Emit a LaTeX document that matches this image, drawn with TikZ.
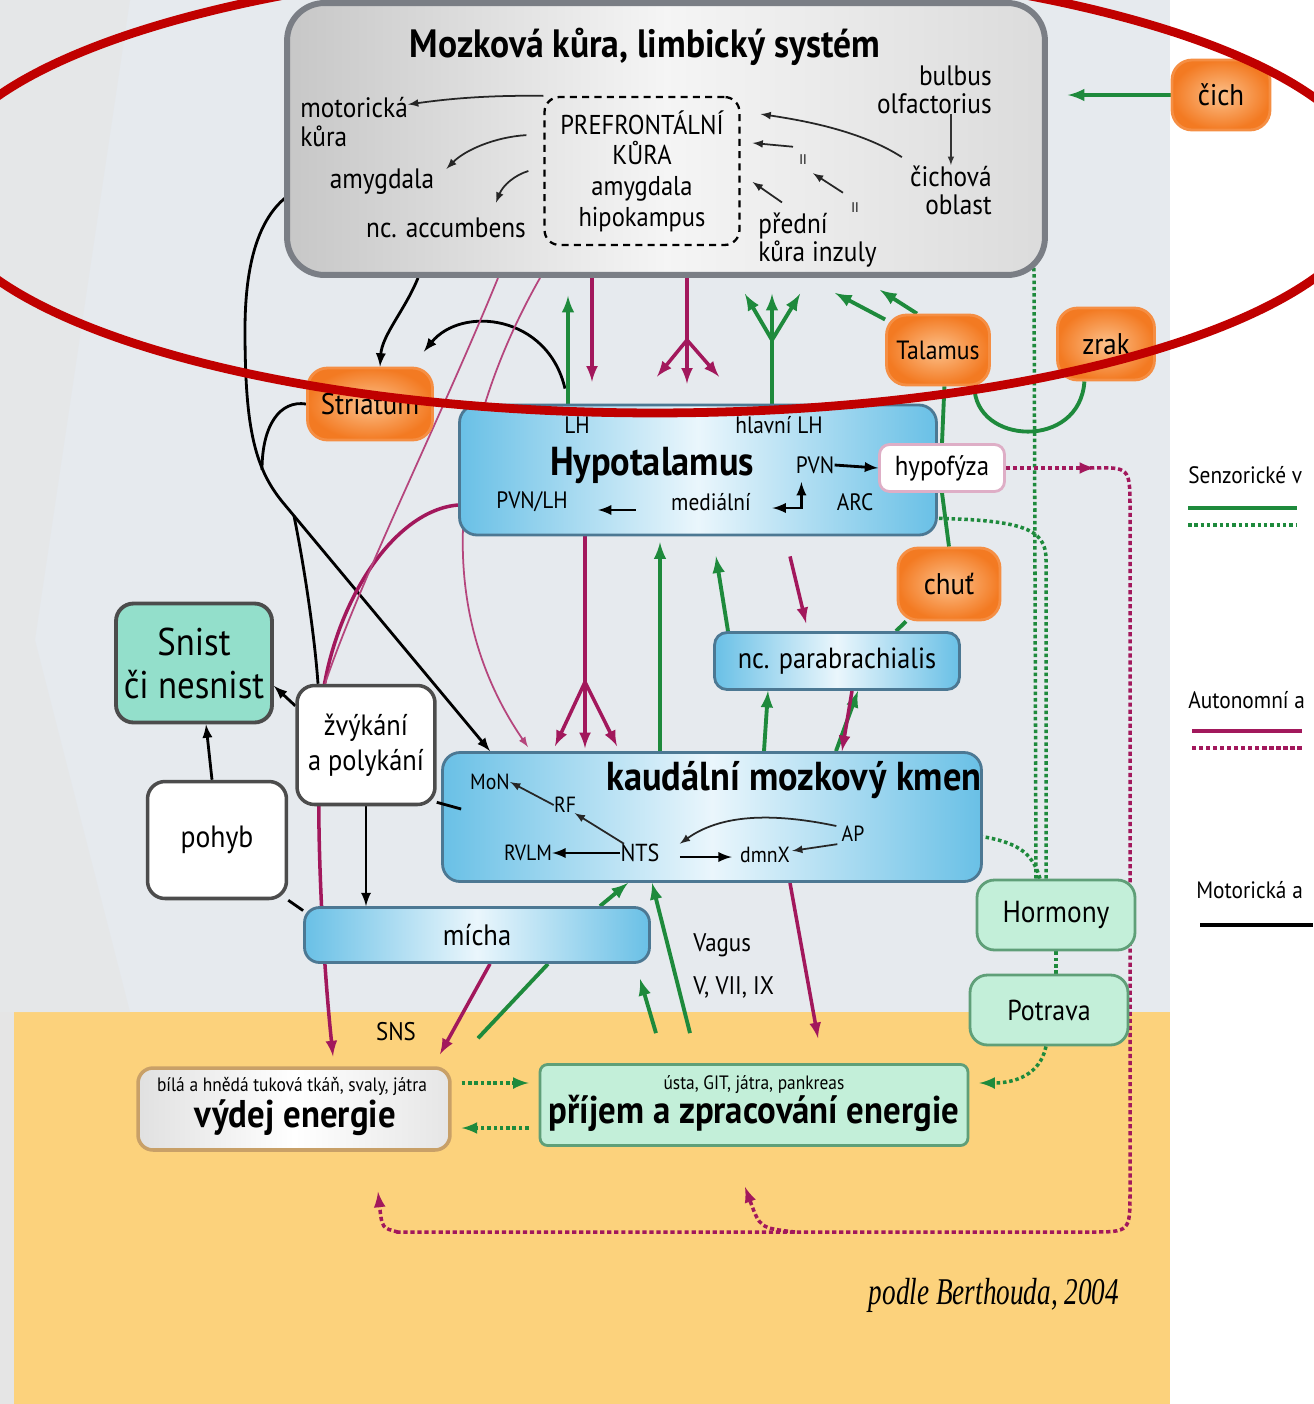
\documentclass[tikz,border=0pt]{standalone}
\usepackage{fontspec}
\setmainfont{PT Sans}[FakeStretch=0.9]
\newfontfamily\citefont{Liberation Serif}[FakeStretch=0.72]
\usetikzlibrary{calc}

\definecolor{sgreen}{HTML}{1E8A3C}
\definecolor{amag}{HTML}{A2185C}
\definecolor{panel}{HTML}{E6EAEE}
\definecolor{sand}{HTML}{FCD27C}
\definecolor{oin}{HTML}{FCC08A}
\definecolor{oout}{HTML}{F37A22}
\definecolor{bl}{HTML}{69C0E6}
\definecolor{blmid}{HTML}{EAF6FC}
\definecolor{blline}{HTML}{4C7893}
\definecolor{mint}{HTML}{C3EFD9}
\definecolor{mintline}{HTML}{5F9F78}
\definecolor{snistfill}{HTML}{93DFCB}
\definecolor{korline}{HTML}{7A7E85}
\definecolor{vydline}{HTML}{C8A068}
\definecolor{ellred}{HTML}{C00000}

\pgfdeclarelayer{bg}
\pgfdeclarelayer{edges}
\pgfsetlayers{bg,edges,main}

\tikzset{
  every node/.style={inner sep=0pt, font=\fontsize{16}{16}\selectfont},
  box/.style={rounded corners=0.35cm, line width=1.6pt},
  obox/.style={box, draw=oout!85!white, inner color=oin, outer color=oout, rounded corners=0.4cm},
  bbox/.style={box, draw=blline, left color=bl, right color=bl, middle color=blmid},
  mbox/.style={box, draw=mintline, fill=mint},
  wbox/.style={box, draw=black!70, fill=white, line width=2pt},
  sens/.style={draw=sgreen, line width=2.2pt},
  sensdot/.style={draw=sgreen, line width=2pt, dash pattern=on 2pt off 1.6pt},
  autn/.style={draw=amag, line width=2pt},
  autnthin/.style={draw=amag!80, line width=1pt},
  autodot/.style={draw=amag, line width=2pt, dash pattern=on 2.4pt off 1.6pt},
  motor/.style={draw=black, line width=1.6pt},
  motorthin/.style={draw=black!85, line width=1pt},
  sublbl/.style={font=\fontsize{13.5}{13.5}\selectfont},
  kmenlbl/.style={font=\fontsize{12.5}{12.5}\selectfont},
  leglbl/.style={anchor=west, font=\fontsize{13.5}{13.5}\selectfont},
}

\begin{document}
\begin{tikzpicture}[x=0.02cm, y=-0.02cm]
  \useasboundingbox (0,0) rectangle (1313,1404);

  % pozadi
  \begin{pgfonlayer}{bg}
    \fill[white] (0,0) rectangle (1313,1404);
    \fill[panel] (0,0) rectangle (1170,1012);
    \fill[sand] (0,1012) rectangle (1170,1404);
    \fill[black!10, opacity=0.6] (0,0) -- (130,0) -- (35,640) -- (130,1012) -- (0,1012) -- cycle;
    \fill[black!10] (0,1012) rectangle (14,1404);
  \end{pgfonlayer}

  % mozkova kura
  \node[box, draw=korline, line width=3.4pt, rounded corners=0.75cm, left color=black!22, right color=black!14, middle color=black!4, minimum width=15.16cm, minimum height=5.44cm] (kora) at (666,139) {};
  \node[font=\bfseries\fontsize{22.5}{24}\selectfont] (koratit) at (645,47) {Mozková kůra, limbický systém};
  \node[align=left, anchor=west] (mot) at (300,122) {motorická\\kůra};
  \node (amyg) at (382,182) {amygdala};
  \node (acc) at (446,228) {nc. accumbens};
  \node[draw, line width=1.3pt, dash pattern=on 4pt off 3pt, rounded corners=0.3cm, minimum width=3.9cm, minimum height=2.96cm, align=center, font=\fontsize{15.5}{17.5}\selectfont] (pfc) at (642,171) {PREFRONTÁLNÍ\\KŮRA\\amygdala\\hipokampus};
  \node[align=right, anchor=east] (bulbus) at (992,90) {bulbus\\olfactorius};
  \node[align=right, anchor=east] (cichova) at (992,190) {čichová\\oblast};
  \node[align=left, anchor=west] (insula) at (758,240) {přední\\kůra inzuly};
  \node[font=\fontsize{8}{8}\selectfont] (ii1) at (803,160) {II};
  \node[font=\fontsize{8}{8}\selectfont] (ii2) at (855,208) {II};
  \coordinate (olf) at (958,240);

  % smysly a jadra
  \node[obox, minimum width=1.96cm, minimum height=1.4cm, font=\fontsize{17}{17}\selectfont] (cich) at (1221,95) {čich};
  \node[obox, minimum width=2.06cm, minimum height=1.4cm, font=\fontsize{15}{15}\selectfont] (talamus) at (938,350) {Talamus};
  \node[obox, minimum width=1.94cm, minimum height=1.44cm, font=\fontsize{17}{17}\selectfont] (zrak) at (1106,344) {zrak};
  \node[obox, minimum width=2.5cm, minimum height=1.44cm, font=\fontsize{17}{17}\selectfont] (striatum) at (370,404) {Striatum};
  \node[obox, minimum width=2.04cm, minimum height=1.44cm, font=\fontsize{17}{17}\selectfont] (chut) at (949,584) {chuť};

  % hypotalamus
  \node[bbox, minimum width=9.54cm, minimum height=2.6cm] (hypo) at (698,470) {};
  \node[font=\bfseries\fontsize{23}{23}\selectfont] (hypotit) at (652,465) {Hypotalamus};
  \node[sublbl] (lh) at (577,425) {LH};
  \node[sublbl] (hlh) at (779,425) {hlavní LH};
  \node[sublbl] (pvn) at (815,465) {PVN};
  \node[sublbl] (pvnlh) at (532,502) {PVN/LH};
  \node[sublbl] (medialni) at (711,502) {mediální};
  \node[sublbl] (arc) at (855,502) {ARC};
  \coordinate (arcin) at (888,518);
  \node[wbox, draw=amag!35, line width=1.6pt, rounded corners=0.2cm, minimum width=2.5cm, minimum height=0.94cm, font=\fontsize{15.7}{15.7}\selectfont] (hypofyza) at (942,468) {hypofýza};
  \node[bbox, minimum width=4.9cm, minimum height=1.14cm, rounded corners=0.25cm, font=\fontsize{16.6}{16.6}\selectfont] (parab) at (837,661) {nc. parabrachialis};

  % chovani
  \node[box, draw=black!70, line width=2.2pt, fill=snistfill, minimum width=3.12cm, minimum height=2.38cm, align=center, font=\fontsize{22}{24.5}\selectfont] (snist) at (194,663) {Snist\\či nesnist};
  \node[wbox, minimum width=2.76cm, minimum height=2.38cm, align=center, font=\fontsize{16.7}{20}\selectfont] (zvykani) at (366,745) {žvýkání\\a polykání};
  \node[wbox, minimum width=2.78cm, minimum height=2.34cm, font=\fontsize{17.5}{17.5}\selectfont] (pohyb) at (217,840) {pohyb};

  % mozkovy kmen
  \node[bbox, minimum width=10.78cm, minimum height=2.58cm] (kmen) at (712,817) {};
  \node[font=\bfseries\fontsize{23}{23}\selectfont] (kmentit) at (794,780) {kaudální mozkový kmen};
  \node[kmenlbl] (mon) at (490,782) {MoN};
  \node[kmenlbl] (rf) at (565,805) {RF};
  \node[kmenlbl] (rvlm) at (528,853) {RVLM};
  \node[font=\fontsize{14}{14}\selectfont] (nts) at (640,853) {NTS};
  \node[kmenlbl] (dmnx) at (765,855) {dmnX};
  \node[kmenlbl] (ap) at (853,834) {AP};
  \node[bbox, minimum width=6.9cm, minimum height=1.1cm, rounded corners=0.3cm, font=\fontsize{16.8}{16.8}\selectfont] (micha) at (477,935) {mícha};

  \node[mbox, minimum width=3.16cm, minimum height=1.4cm, font=\fontsize{17.3}{17.3}\selectfont] (hormony) at (1056,915) {Hormony};
  \node[mbox, minimum width=3.16cm, minimum height=1.4cm, font=\fontsize{16.4}{16.4}\selectfont] (potrava) at (1049,1010) {Potrava};

  % energie
  \node[box, draw=vydline, line width=2pt, rounded corners=0.3cm, left color=black!12, right color=black!10, middle color=white, minimum width=6.24cm, minimum height=1.64cm] (vydej) at (294,1109) {};
  \node[font=\fontsize{11}{11}\selectfont] (vydsub) at (292,1086) {bílá a hnědá tuková tkáň, svaly, játra};
  \node[font=\bfseries\fontsize{22}{22}\selectfont] (vydtit) at (295,1118) {výdej energie};
  \node[mbox, rounded corners=0.15cm, minimum width=8.56cm, minimum height=1.62cm] (prijem) at (754,1105) {};
  \node[font=\fontsize{11}{11}\selectfont] (prisub) at (754,1085) {ústa, GIT, játra, pankreas};
  \node[font=\bfseries\fontsize{22}{22}\selectfont] (pritit) at (754,1113) {příjem a zpracování energie};

  \node[font=\fontsize{14.5}{14.5}\selectfont] (sns) at (396,1032) {SNS};
  \node[align=left, anchor=west, font=\fontsize{14.5}{24}\selectfont] (vagus) at (693,966) {Vagus\\V, VII, IX};
  \node[font=\citefont\itshape\fontsize{21.5}{21.5}\selectfont] (zdroj) at (994,1295) {podle Berthouda, 2004};

  % legenda
  \node[leglbl] (legsen) at (1188,475) {Senzorické v};
  \node[leglbl] (legaut) at (1188,700) {Autonomní a};
  \node[leglbl] (legmot) at (1196,890) {Motorická a};
  \draw[sens] (1188,508) -- (1297,508);
  \draw[sensdot] (1188,525) -- (1297,525);
  \draw[autn] (1192,731) -- (1302,731);
  \draw[autodot] (1192,748) -- (1302,748);
  \draw[motor, line width=2.6pt] (1200,925) -- (1313,925);

  \begin{pgfonlayer}{edges}
    % motoricke
    \draw[motor,-latex] (418,0 |- kora.south) .. controls (405,310) and (382,335) .. (380,0 |- striatum.north);
    \draw[motor,-latex] ($(565,0 |- hypo.north)+(0,-15)$) .. controls (548,315) and (462,305) .. ($(striatum.north east)+(-10,-15)$);
    \draw[motor,-latex] ($(amyg.west)+(-8,0)$) .. controls (270,190) and (245,240) .. (245,330) .. controls (245,430) and (255,470) .. (285,505) -- (490,0 |- kmen.north);
    \draw[motor] (striatum.west) .. controls (280,400) and (262,425) .. (262,470);
    \coordinate (split) at (294,516);
    \draw[motor] (split) .. controls (305,570) and (315,640) .. (318,0 |- zvykani.north);
    \draw[motor,-latex] (zvykani.151) -- (snist.-16);
    \draw[motor,-latex] (212,0 |- pohyb.north) -- (206,0 |- snist.south);
    \draw[motor] (pohyb.south east) -- (micha.172);
    \draw[motor,-latex] (zvykani.south) -- (zvykani.south |- micha.north);

    % senzoricke
    \draw[sens,-latex] (cich.west) -- ($(kora.east |- cich.west)+(20,0)$);
    \draw[sens,-latex] (568,0 |- hypo.north) -- ($(568,0 |- kora.south)+(0,18)$);
    \coordinate (yfork) at (772,340);
    \draw[sens] (772,0 |- hypo.north) -- (yfork);
    \foreach \dx in {-27,0,28}
      \draw[sens,-latex] (yfork) -- ($(yfork |- kora.south)+(\dx,16)$);
    \draw[sens,-latex] (talamus.150) -- ($(835,0 |- kora.south)+(0,15)$);
    \draw[sens,-latex] (talamus.120) -- ($(880,0 |- kora.south)+(0,12)$);
    \draw[sens] (talamus.-80) -- (hypofyza.north);
    \draw[sens] (zrak.240) .. controls (1080,450) and (975,445) .. (talamus.-45);
    \draw[sensdot,-latex] (1036,0 |- hormony.north) -- (1034,272) .. controls (1034,246) and (1020,240) .. (olf);
    \draw[sensdot,-latex] (1046,0 |- hormony.north) -- (1046,560) .. controls (1046,528) and (1025,518) .. (arcin);
    \draw[sensdot,-latex] (1040,0 |- hormony.north) .. controls (1030,845) and (1010,832) .. ($(ap.east)+(14,-3)$);
    \draw[sensdot] (hormony.south) -- (hormony.south |- potrava.north);
    \draw[sensdot,-latex] (1046,0 |- potrava.south) .. controls (1040,1075) and (1015,1083) .. ($(prijem.east)+(10,-22)$);
    \draw[sensdot,-latex] ($(vydej.east)+(10,-26)$) -- ($(prijem.west)+(-10,-22)$);
    \draw[sensdot,-latex] ($(prijem.west)+(-10,23)$) -- ($(vydej.east)+(10,19)$);
    \draw[sens] (chut.north) -- (hypofyza.south);
    \draw[sens] (906,0 |- chut.south) -- (896,0 |- parab.north);
    \draw[sens,-latex] (728,0 |- parab.north) -- ($(716,0 |- hypo.south)+(0,20)$);
    \draw[sens,-latex] (660,0 |- kmen.north) -- ($(660,0 |- hypo.south)+(0,6)$);
    \draw[sens,-latex] (764,0 |- kmen.north) -- (768,0 |- parab.south);
    \draw[sens,-latex] (836,0 |- kmen.north) -- (858,0 |- parab.south);
    \draw[sens,-latex] (600,0 |- micha.north) -- (628,0 |- kmen.south);
    \draw[sens,-latex] ($(690,0 |- prijem.north)+(0,-30)$) -- (652,0 |- kmen.south);
    \draw[sens,-latex] ($(656,0 |- prijem.north)+(0,-30)$) -- ($(640,0 |- micha.south)+(0,15)$);
    \draw[sens] ($(478,0 |- vydej.north)+(0,-28)$) -- (548,0 |- micha.south);

    % autonomni
    \draw[autn,-latex] (592,0 |- kora.south) -- ($(592,0 |- hypo.north)+(0,-22)$);
    \coordinate (kfork) at (687,340);
    \draw[autn] (687,0 |- kora.south) -- (kfork);
    \foreach \dx/\dy in {-30/-27, 0/-20, 32/-27}
      \draw[autn,-latex] (kfork) -- ($(687,0 |- hypo.north)+(\dx,\dy)$);
    \coordinate (hfork) at (585,682);
    \draw[autn] (585,0 |- hypo.south) -- (hfork);
    \foreach \dx/\dy in {-30/-5, 0/-3, 32/-5}
      \draw[autn,-latex] (hfork) -- ($(585,0 |- kmen.north)+(\dx,\dy)$);
    \draw[autn,-latex] ($(790,0 |- hypo.south)+(0,20)$) -- ($(806,0 |- parab.north)+(0,-8)$);
    \draw[autn,-latex] (852,0 |- parab.south) -- (842,0 |- kmen.north);
    \draw[autn,-latex] (790,0 |- kmen.south) -- ($(818,0 |- prijem.north)+(0,-25)$);
    \draw[autn,-latex] ($(hypo.west)+(0,35)$) .. controls (395,510) and (335,600) .. (322,700) .. controls (314,800) and (322,950) .. ($(333,0 |- vydej.north)+(0,-10)$);
    \draw[autnthin] (498,0 |- kora.south) .. controls (440,420) and (360,580) .. (325,0 |- zvykani.north);
    \draw[autnthin,-latex] (540,0 |- kora.south) .. controls (465,410) and (420,590) .. ($(528,0 |- kmen.north)+(0,-4)$);
    \draw[autn,-latex] (490,0 |- micha.south) -- ($(440,0 |- vydej.north)+(0,-12)$);
    \draw[autodot,-latex] (hypofyza.east) -- (1095,0 |- hypofyza.east);
    \draw[autodot] (1090,0 |- hypofyza.east) .. controls (1130,467) .. (1130,510) -- (1130,1192) .. controls (1130,1232) .. (1090,1232) -- (395,1232);
    \draw[autodot,-latex] (398,1232) .. controls (382,1228) .. ($(378,0 |- vydej.south)+(0,40)$);
    \draw[autodot,-latex] (795,1232) .. controls (760,1228) .. ($(745,0 |- prijem.south)+(0,40)$);
  \end{pgfonlayer}

  % sipky uvnitr kury
  \draw[motorthin,-latex] (pfc.north west) .. controls (480,95) and (440,100) .. (mot.18);
  \draw[motorthin,-latex] ($(pfc.160)+(-17,0)$) .. controls (495,137) and (465,150) .. ($(amyg.north east)+(12,0)$);
  \draw[motorthin,-latex] ($(pfc.west)+(-15,0)$) .. controls (515,175) and (503,185) .. ($(acc.north)+(50,-15)$);
  \draw[motorthin,-latex] ($(cichova.north west)+(-8,-8)$) .. controls (860,130) and (800,120) .. ($(pfc.30)+(20,0)$);
  \draw[motorthin,-latex] ($(ii1.north)+(-10,-8)$) -- ($(pfc.east)+(12,-28)$);
  \draw[motorthin,-latex] ($(ii2.north)+(-12,-10)$) -- ($(ii1.south)+(10,8)$);
  \draw[motorthin,-latex] ($(insula.north west)+(24,-10)$) -- ($(pfc.east)+(12,11)$);
  \draw[black!80, line width=0.7pt, -latex] (bulbus.south -| cichova.north) -- (cichova.north);

  % sipky v hypotalamu
  \draw[motor,-latex] (pvn.east) -- (hypofyza.west);
  \draw[motor,-latex] ($(medialni.west)+(-35,8)$) -- ($(pvnlh.east)+(30,8)$);
  \draw[motor,latex-latex] ($(arc.west)+(-35,-20)$) -- ($(arc.west)+(-35,6)$) -- ($(arc.west)+(-64,6)$);

  % sipky v kmeni
  \draw[motorthin,-latex] (rf.west) -- (mon.east);
  \draw[motorthin,-latex] (nts.150) -- (rf.-40);
  \draw[motor,-latex] (nts.west) -- (rvlm.east);
  \draw[motor,-latex] ($(nts.east)+(20,4)$) -- ($(dmnx.west)+(-8,2)$);
  \draw[motorthin,-latex] ($(ap.west)+(-5,-8)$) .. controls (770,812) and (720,815) .. ($(nts.north east)+(20,0)$);
  \draw[motorthin,-latex] ($(ap.south west)+(-4,2)$) -- ($(dmnx.north east)+(2,4)$);
  \draw[motor] (zvykani.-39) -- ($(kmen.west)+(20,-8)$);

  % cervena elipsa
  \draw[ellred, line width=5pt] (655,188) ellipse [x radius=14.4cm, y radius=4.5cm];
\end{tikzpicture}
\end{document}
